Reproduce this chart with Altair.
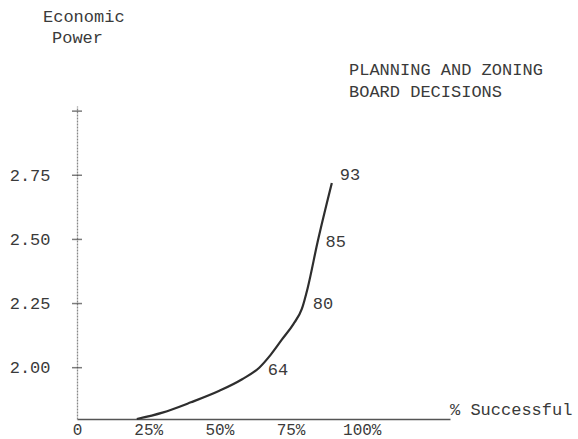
import altair as alt
import pandas as pd

# Curve: % successful vs economic power
pct_success = [21, 30, 40, 50, 58, 64, 68, 72, 76, 79, 81, 84.5, 89.5]
econ_power = [1.80, 1.825, 1.865, 1.91, 1.955, 2.00, 2.05, 2.11, 2.17, 2.23, 2.31, 2.49, 2.72]

# Point annotations
lab_text = ["64", "80", "85", "93"]
lab_x = [64.2, 80.0, 84.5, 89.5]
lab_y = [1.99, 2.25, 2.49, 2.75]

# Axis ticks
y_ticks = [2.00, 2.25, 2.50, 2.75, 3.00]
x_ticks = [0, 25, 50, 75, 100]

FONT = "Liberation Mono"
TXT = "#3a3a3a"
FS = 17

curve = pd.DataFrame({"x": pct_success, "y": econ_power})
labs = pd.DataFrame({"x": lab_x, "y": lab_y, "t": lab_text})
ticks = pd.DataFrame({"y": y_ticks})

xscale = alt.Scale(domain=[0, 131], nice=False, zero=False)
yscale = alt.Scale(domain=[1.80, 3.02], nice=False, zero=False)

xaxis = alt.Axis(values=x_ticks, title=None, ticks=False, grid=False,
                 labelExpr="datum.value == 0 ? '0' : datum.value + '%'",
                 labelFont=FONT, labelFontSize=16, labelColor=TXT,
                 labelBaseline="top", labelPadding=2, labelFlush=False,
                 domainColor="#555", domainWidth=1.3)
yaxis = alt.Axis(values=y_ticks, title=None, ticks=False, grid=False,
                 labelExpr="datum.value >= 3 ? '' : format(datum.value, '.2f')",
                 labelFont=FONT, labelFontSize=FS, labelColor=TXT,
                 labelPadding=27, domainColor="#888", domainWidth=1.3,
                 domainDash=[2, 1])

line = alt.Chart(curve).mark_line(color="#2e2e2e", strokeWidth=2.2, interpolate="monotone").encode(
    x=alt.X("x:Q", scale=xscale, axis=xaxis),
    y=alt.Y("y:Q", scale=yscale, axis=yaxis),
)

tickmarks = alt.Chart(ticks).mark_tick(size=10, thickness=1.5, color="#444").encode(
    y=alt.Y("y:Q", scale=yscale),
    x=alt.value(0),
)

labels = alt.Chart(labs).mark_text(font=FONT, fontSize=FS, color=TXT, align="left",
                                   baseline="middle", dx=8).encode(
    x=alt.X("x:Q", scale=xscale),
    y=alt.Y("y:Q", scale=yscale),
    text="t:N",
)

def txt(s, x, y):
    return alt.Chart(pd.DataFrame({"t": [s]})).mark_text(
        font=FONT, fontSize=FS, color=TXT, align="left", baseline="middle"
    ).encode(x=alt.value(x), y=alt.value(y), text="t:N")

chart = alt.layer(
    line, tickmarks, labels,
    txt("Economic", -34, -89),
    txt("Power", -25, -68),
    txt("PLANNING AND ZONING", 272, -36),
    txt("BOARD DECISIONS", 272, -14),
    txt("% Successful", 373, 304),
).properties(
    width=373, height=313,
    background="white",
    autosize=alt.AutoSizeParams(type="none"),
    padding={"left": 77, "top": 106, "right": 128, "bottom": 20},
).configure_view(stroke=None)

chart.save("out.html", embed_options={"renderer": "svg", "actions": False})
